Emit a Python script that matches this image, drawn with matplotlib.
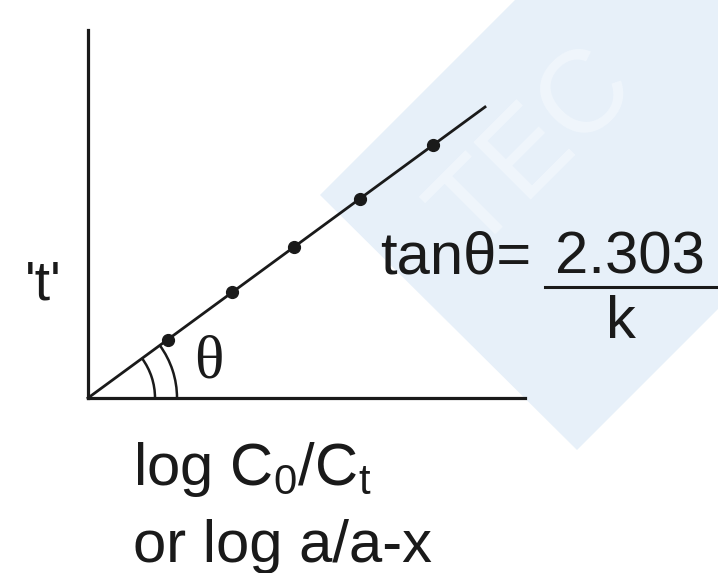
import matplotlib
matplotlib.use("Agg")
import matplotlib.pyplot as plt
from matplotlib.patches import Arc, Polygon
import numpy as np

plt.rcParams["font.family"] = ["Liberation Sans", "DejaVu Sans"]
plt.rcParams["mathtext.fontset"] = "custom"
plt.rcParams["mathtext.rm"] = "Liberation Sans"
plt.rcParams["mathtext.it"] = "Liberation Sans"

# Data: log C0/Ct (x) vs time t (y), arbitrary units
log_ratio = [0.80, 1.44, 2.06, 2.72, 3.45]
t_values = [0.58, 1.06, 1.51, 1.99, 2.53]
line_x = [0.0, 3.97]
line_t = [0.0, 2.91]

W, H = 718, 573
fig = plt.figure(figsize=(W / 100, H / 100), dpi=100)

# Background layer in pixel coordinates (watermark + annotations)
bg = fig.add_axes([0, 0, 1, 1])
bg.set_xlim(0, W)
bg.set_ylim(H, 0)
bg.axis("off")
bg.add_patch(
    Polygon(
        [(320, 195), (515, 0), (718, 0), (718, 309), (577, 450)],
        closed=True, facecolor="#e7f0f9", edgecolor="none", zorder=0,
    )
)
bg.text(535, 150, "TEC", fontsize=84, rotation=45, color="#f0f6fc",
        ha="center", va="center", zorder=1)

# Main axes: origin at (88, 398) px
ax = fig.add_axes([88 / W, (H - 398) / H, (525 - 88) / W, (398 - 30) / H])
ax.set_facecolor("none")
ax.set_xlim(0, 4.37)
ax.set_ylim(0, 3.68)
for side in ["top", "right"]:
    ax.spines[side].set_visible(False)
for side in ["left", "bottom"]:
    ax.spines[side].set_linewidth(2.3)
    ax.spines[side].set_color("#1a1a1a")
ax.set_xticks([])
ax.set_yticks([])

ax.plot(line_x, line_t, color="#1a1a1a", lw=2.0, clip_on=False)
ax.plot(log_ratio, t_values, "o", color="#1a1a1a", ms=8.5, clip_on=False)

angle = np.degrees(np.arctan2(line_t[1], line_x[1]))
for r in [0.67, 0.89]:
    ax.add_patch(Arc((0, 0), 2 * r, 2 * r, theta1=0, theta2=angle,
                     color="#1a1a1a", lw=1.8))

# Annotations
bg.text(25, 300, "'t'", fontsize=40, color="#1a1a1a", va="baseline", zorder=3)
bg.text(209, 363, "θ", fontsize=44, family="Liberation Serif",
        color="#1a1a1a", ha="center", va="center", zorder=3)
bg.text(380, 273, "tanθ=", fontsize=43, color="#1a1a1a",
        va="baseline", zorder=3)
bg.text(555, 273, "2.303", fontsize=43, color="#1a1a1a",
        va="baseline", zorder=3)
bg.plot([545, 718], [287, 287], color="#1a1a1a", lw=2.2, zorder=3)
bg.text(621, 338, "k", fontsize=43, color="#1a1a1a", ha="center",
        va="baseline", zorder=3)
bg.text(133, 485, r"log C$_\mathrm{0}$/C$_\mathrm{t}$", fontsize=43,
        color="#1a1a1a", va="baseline", zorder=3)
bg.text(133, 562, "or log a/a-x", fontsize=43, color="#1a1a1a",
        va="baseline", zorder=3)

fig.savefig("out.png", dpi=100)
